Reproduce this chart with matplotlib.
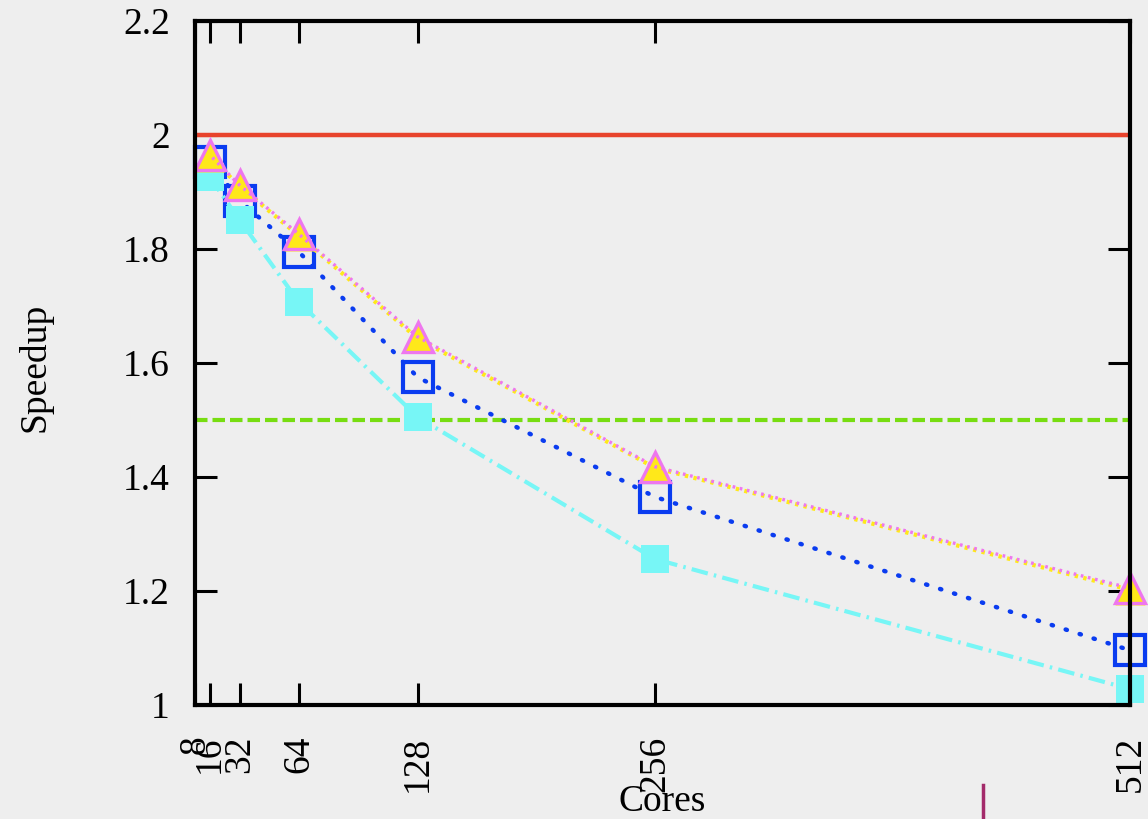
import matplotlib
matplotlib.use("Agg")
import matplotlib.pyplot as plt
from matplotlib.lines import Line2D

# data
cores = [16, 32, 64, 128, 256, 512]
tick_cores = [8, 16, 32, 64, 128, 256, 512]
speedup_yellow = [1.962, 1.910, 1.823, 1.643, 1.416, 1.202]
speedup_magenta = [1.965, 1.912, 1.826, 1.646, 1.418, 1.205]
speedup_blue = [1.953, 1.885, 1.795, 1.575, 1.365, 1.096]
speedup_cyan = [1.926, 1.851, 1.707, 1.505, 1.256, 1.028]
ideal_speedup = 2.0
target_speedup = 1.5
y_ticks = [1.0, 1.2, 1.4, 1.6, 1.8, 2.0, 2.2]
y_tick_labels = ["1", "1.2", "1.4", "1.6", "1.8", "2", "2.2"]

bg = "#eeeeee"
plt.rcParams["font.family"] = ["Liberation Serif", "DejaVu Serif"]

fig = plt.figure(figsize=(11.48, 8.19), dpi=100, facecolor=bg)
ax = fig.add_axes([195 / 1148, 1 - 705 / 819, 935 / 1148, 684 / 819])
ax.set_facecolor(bg)

# reference lines
ax.axhline(ideal_speedup, color="#e8432c", lw=3.2, zorder=2)
ax.axhline(target_speedup, color="#77dd11", lw=3.0, ls=(0, (3.0, 1.2)), zorder=2)

# series (markers at 512 spill over the right border like in the original)
ax.plot(cores, speedup_blue, color="#0a3cf0", lw=3.2, ls=(0, (0.3, 3.0)),
        dash_capstyle="round", marker="s", ms=21, mfc="none", mec="#0a3cf0",
        mew=3.0, zorder=3, clip_on=False)
ax.plot(cores, speedup_cyan, color="#77f6f6", lw=3.0, ls=(0, (4.0, 1.5, 0.6, 1.5)),
        marker="s", ms=20, mfc="#77f6f6", mec="#77f6f6", mew=0, zorder=4,
        clip_on=False)
ax.plot(cores, speedup_yellow, color="#ffe81a", lw=3.0, ls=(0, (0.8, 1.3)),
        marker="^", ms=22, mfc="#ffe81a", mec="none", zorder=5, clip_on=False)
ax.plot(cores, speedup_magenta, color="#ee77ee", lw=2.4, ls=(1.1, (0.8, 1.4)),
        marker="^", ms=22, mfc="none", mec="#ee77ee", mew=2.4, zorder=6,
        clip_on=False)

ax.set_xlim(8, 512)
ax.set_ylim(1.0, 2.2)
ax.set_xticks(tick_cores)
ax.set_xticklabels([str(c) for c in tick_cores], rotation=90)
ax.set_yticks(y_ticks)
ax.set_yticklabels(y_tick_labels)

ax.tick_params(axis="both", direction="in", length=16, width=2.2, labelsize=27,
               top=True, right=True, color="black")
ax.tick_params(axis="y", pad=18)
ax.tick_params(axis="x", pad=22)
for sp in ax.spines.values():
    sp.set_linewidth(3.0)
    sp.set_color("black")
    sp.set_zorder(7)

ax.set_xlabel("Cores", fontsize=27)
ax.xaxis.set_label_coords(0.5, -0.142)
ax.xaxis.label.set_va("center")
ax.set_ylabel("Speedup", fontsize=27)
ax.yaxis.set_label_coords(-0.171, 0.494)
ax.yaxis.label.set_va("center")

# small stray stroke at the bottom of the reference image
fig.add_artist(Line2D([983 / 1148, 983 / 1148], [0, 1 - 785 / 819],
                      transform=fig.transFigure, color="#a32a6a", lw=2.5))

fig.savefig("out.png", dpi=100, facecolor=bg)
